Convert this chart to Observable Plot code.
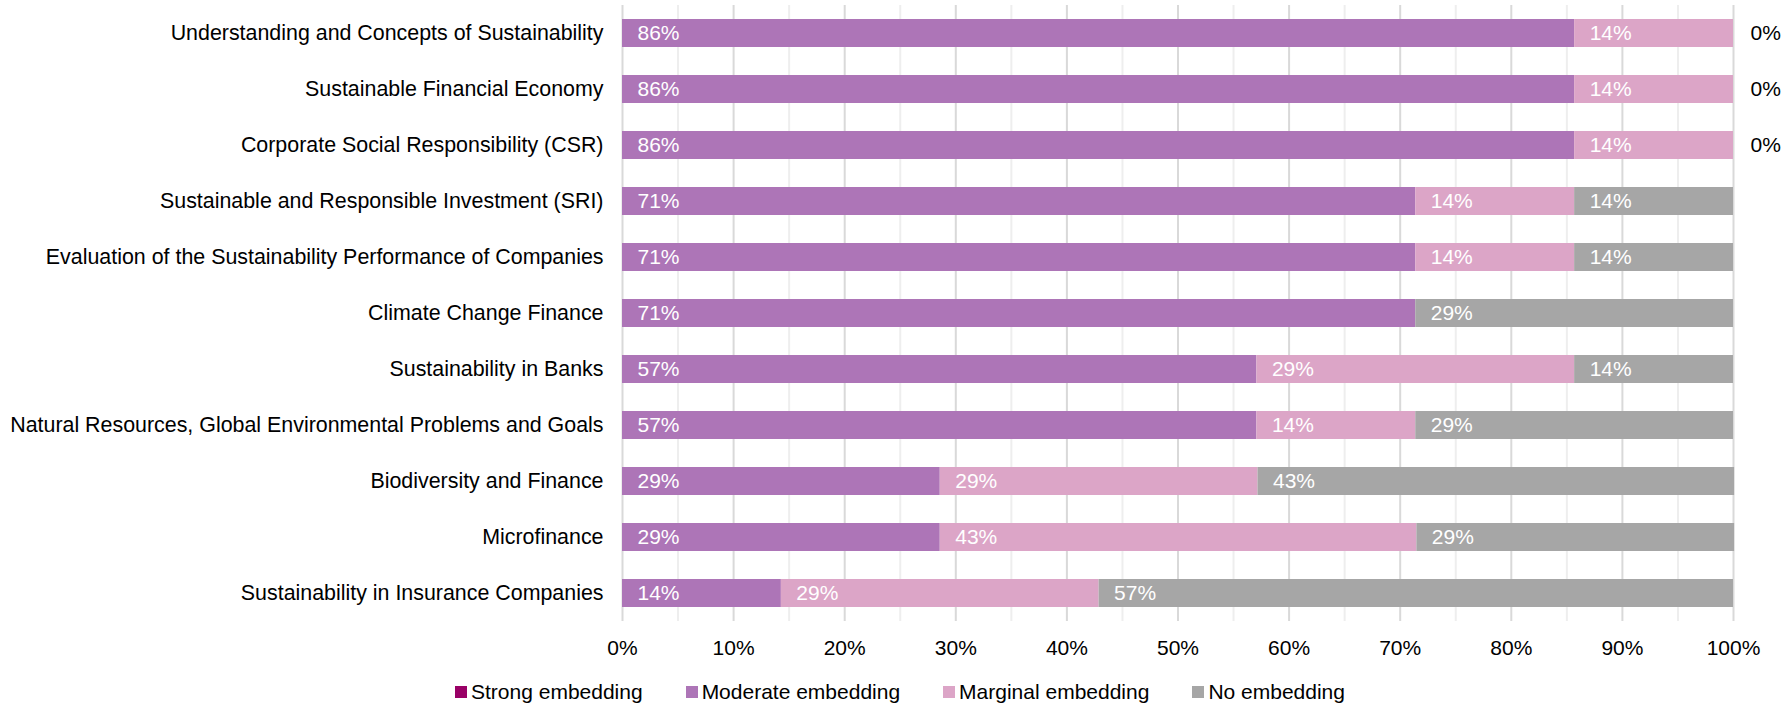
<!DOCTYPE html>
<html>
<head>
<meta charset="utf-8">
<script src="https://cdn.jsdelivr.net/npm/d3@7"></script>
<script src="https://cdn.jsdelivr.net/npm/@observablehq/plot@0.6"></script>
<style>
  html, body { margin: 0; padding: 0; background: #fff; }
  body { width: 1785px; height: 710px; overflow: hidden; font-family: "Liberation Sans", Arial, sans-serif; }
  #legend { display: flex; align-items: center; padding-left: 455px; height: 36px; font-size: 21px; color: #000; }
  #legend .item { display: flex; align-items: center; margin-right: 43px; }
  #legend .sw { width: 12px; height: 12px; margin-right: 4px; }
</style>
</head>
<body>
<div id="chart"></div>
<div id="legend"></div>
<script>
const categories = [
  "Understanding and Concepts of Sustainability",
  "Sustainable Financial Economy",
  "Corporate Social Responsibility (CSR)",
  "Sustainable and Responsible Investment (SRI)",
  "Evaluation of the Sustainability Performance of Companies",
  "Climate Change Finance",
  "Sustainability in Banks",
  "Natural Resources, Global Environmental Problems and Goals",
  "Biodiversity and Finance",
  "Microfinance",
  "Sustainability in Insurance Companies"
];
const seriesNames = ["Strong embedding", "Moderate embedding", "Marginal embedding", "No embedding"];
const seriesColors = ["#990066", "#AD75B7", "#DCA5C7", "#A6A6A6"];
const strong   = [0, 0, 0, 0, 0, 0, 0, 0, 0, 0, 0];
const moderate = [85.7, 85.7, 85.7, 71.4, 71.4, 71.4, 57.1, 57.1, 28.6, 28.6, 14.3];
const marginal = [14.3, 14.3, 14.3, 14.3, 14.3, 0, 28.6, 14.3, 28.6, 42.9, 28.6];
const none     = [0, 0, 0, 14.3, 14.3, 28.6, 14.3, 28.6, 42.9, 28.6, 57.1];
const xTicks = [0, 10, 20, 30, 40, 50, 60, 70, 80, 90, 100];
const xMinorTicks = [5, 15, 25, 35, 45, 55, 65, 75, 85, 95];

const seriesValues = [strong, moderate, marginal, none];
const rows = [];
categories.forEach((c, i) => {
  seriesValues.forEach((vals, s) => {
    rows.push({category: c, series: seriesNames[s], value: vals[i]});
  });
});
const totals = categories.map((c, i) => seriesValues.reduce((a, v) => a + v[i], 0));
const zeroNone = categories.map((c, i) => ({category: c, value: none[i], total: totals[i]})).filter(d => d.value === 0);

const chart = Plot.plot({
  width: 1785,
  height: 674,
  marginLeft: 622,
  marginRight: 52,
  marginTop: 5,
  marginBottom: 53,
  style: {fontFamily: "'Liberation Sans', Arial, sans-serif", color: "#000", background: "#fff"},
  x: {domain: [0, 100], ticks: xTicks, tickFormat: d => d + "%", tickSize: 0, tickPadding: 19, label: null},
  y: {domain: categories, paddingInner: 0.5, paddingOuter: 0.25, tickSize: 0, tickPadding: 19, label: null},
  color: {domain: seriesNames, range: seriesColors},
  marks: [
    Plot.ruleX(xMinorTicks, {stroke: "#EEEEEE", strokeWidth: 2}),
    Plot.ruleX(xTicks, {stroke: "#D9D9D9", strokeWidth: 2}),
    Plot.barX(rows, Plot.stackX({y: "category", x: "value", fill: "series", order: seriesNames})),
    Plot.text(rows, Plot.stackX1({
      y: "category", x: "value", z: "series", order: seriesNames,
      filter: d => d.value > 0,
      text: d => Math.round(d.value) + "%",
      textAnchor: "start", dx: 15, fill: "white", fontSize: 21
    })),
    Plot.text(zeroNone, {
      y: "category", x: "total",
      text: d => Math.round(d.value) + "%",
      textAnchor: "start", dx: 17, fill: "black", fontSize: 21
    }),
    Plot.axisX({ticks: xTicks, tickFormat: d => d + "%", tickSize: 0, tickPadding: 19, fontSize: 21, label: null}),
    Plot.axisY({tickSize: 0, tickPadding: 19, fontSize: 21.4, label: null})
  ]
});
document.getElementById("chart").appendChild(chart);

const legend = document.getElementById("legend");
seriesNames.forEach((name, i) => {
  const item = document.createElement("div");
  item.className = "item";
  const sw = document.createElement("span");
  sw.className = "sw";
  sw.style.background = seriesColors[i];
  const label = document.createElement("span");
  label.textContent = name;
  item.appendChild(sw);
  item.appendChild(label);
  legend.appendChild(item);
});
</script>
</body>
</html>
